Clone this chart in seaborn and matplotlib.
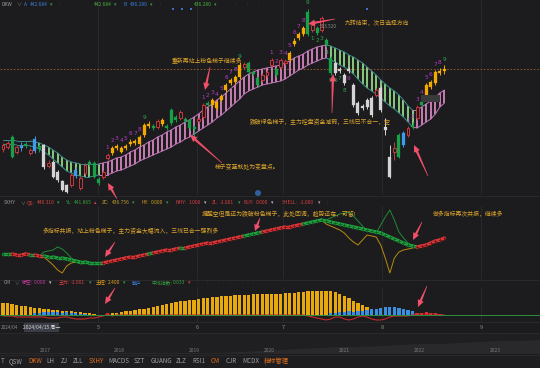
import numpy as np
import pandas as pd
import matplotlib
matplotlib.use("Agg")
import matplotlib.pyplot as plt
import seaborn as sns
from matplotlib.collections import LineCollection
from matplotlib.patches import Rectangle, Polygon, Circle
from matplotlib.transforms import blended_transform_factory

# ---------------- data ----------------
opens = [363,365,375,360,364,368,359,361,366,367, 346,350,340,331,327,327,336,324,339,350,
         349,333,335,354,359,364,360,364,368,369, 368,377,386,386,385,388,386,402,395,394,
         393,392,385,391,395,409,407,404,412,422, 429,430,435,445,449,440,434,432,437,447,
         443,445,449,452,468,474,478,500,482,484, 482,472,454,449,443,437,443,427,409,406,
         412,414,417,424,385,355,360,377,367,377, 387,394,410,417,425,429,439,441]
closes = [367,369,355,365,366,366,362,373,363,345, 349,335,332,322,320,337,342,334,347,348,
          335,329,340,357,364,366,364,366,370,371, 375,387,388,384,391,392,384,389,392,400,
          391,384,383,393,407,407,412,410,416,427, 432,435,447,448,440,438,427,437,440,452,
          437,452,451,459,471,478,484,478,487,479, 494,467,439,439,441,429,441,407,399,404,
          405,397,422,402,382,335,364,355,379,384, 385,405,407,427,430,440,441,443]
highs = [369,371,377,367,370,370,364,376,368,368, 352,352,342,332,328,339,345,336,349,352,
         351,335,342,359,366,368,366,368,373,373, 377,389,391,388,393,394,388,404,397,402,
         395,394,387,395,409,411,414,412,418,429, 434,437,450,450,451,442,436,439,442,454,
         445,454,453,461,474,480,486,503.5,490,486, 496,474,456,451,445,439,445,429,411,408,
         414,416,424,426,394,367,370,379,381,386, 390,407,414,429,432,442,444,447]
lows = [360,363,354,358,361,364,357,359,360,343, 344,334,330,321,319,325,334,322,337,346,
        334,327,333,352,357,362,359,362,366,367, 366,375,384,382,383,386,382,387,390,392,
        389,382,375,389,393,405,405,402,410,420, 427,428,433,443,438,436,425,430,435,445,
        435,443,447,450,466,472,476,476,480,477, 480,465,437,437,439,427,439,405,397,402,
        403,395,415,400,377,334,352,354,365,375, 383,392,405,415,423,427,437,438]
kinds = ("rrgrbgrbgw" "rwwwwrbrrg" "ggrryyyyyy" "yyygrygggr" "gggrrgyyyy"
         "yyyrgggrrr" "grryyyygrg" "rggwwwwwww" "wwrwwwrgbr" "grgyyyyy")

band_hi = [372,372,372,371,371,371,371,370,
           369,367,365,362,359,355,352,350,349,348,348,348,348,348,
           349,350,352,354,355,357,360,362,365,367, 370,372,375,377,380,382,385,387,390,392,
           395,398,402,405,408,412,415,419,423,427, 431,435,438,440,442,443,444,445,446,447,
           449,451,454,456,458,461,463,465,466,467,
           466,464,462,460,457,455,452,449,445,441,437,432,428,424,421,417,412,406,402,
           402,405,408,411,415,419,422]
band_lo = [368,368,368,367,367,367,366,365,
           363,360,357,353,349,345,341,339,337,336,335,335,336,337,
           337,337,339,341,342,344,346,348,351,353, 355,357,359,361,363,365,368,370,373,375,
           378,381,384,387,390,394,397,401,405,409, 413,418,421,423,425,427,428,429,430,431,
           433,436,439,442,444,447,449,451,453,454,
           452,450,447,445,442,438,433,428,424,421,418,414,410,406,403,399,395,390,385,
           384,387,390,393,398,405,409]
band_runs = [("n", 8), ("d", 14), ("u", 50), ("d", 19), ("u", 7)]

td_up_starts = [23, 44, 59, 89]
td_down_starts = [68]

sx_main = [441,441,441,440,440,441,440,440,439,439, 438,438,437,437,436,435,434,433,433,432,
           432,432,432,433,434,435,436,437,438,438, 439,440,441,442,443,444,445,445,446,447,
           447,448,449,450,451,452,452,453,454,455, 456,457,458,459,460,461,462,463,464,465,
           466,467,468,468,469,470,471,472,473,474, 475,474,473,472,471,470,469,468,467,466,
           465,464,463,462,460,458,456,454,452,450, 449,448,449,450,452,454,455,457]
sx_runs = [("g", 2), ("r", 4), ("g", 1), ("r", 2), ("g", 13), ("r", 10), ("g", 1), ("r", 6),
           ("g", 1), ("r", 13), ("g", 4), ("r", 9), ("g", 25), ("r", 7)]
thin_left_idx = [8, 9, 10, 11, 12, 13, 14, 15, 16, 17, 18, 19]
thin_left_green = [439,443,444,445,448,446,442,437,433,431,432,432]
thin_left_gold = [439,438,434,430,425,422,429,432,433,433,433,432]
thin_right_idx = list(range(70, 93))
thin_right_green = [475,475,477,479,481,482,483,479,474,469,464,463,462,470,478,485,475,463,457,452,449,448,449]
thin_right_gold = [475,471,469,467,465,462,457,453,450,455,460,459,458,450,437,422,437,443,445,446,447,448,449]

cm_yellow = [12,12,11,10,9,9,8,7,7,6, 6,5,5,4,4,4,3,3,2,2, 1,0,0,1,2,2,3,4,4,5,
             6,6,7,8,9,10,11,12,13,14, 14,15,15,16,17,17,18,18,19,19, 19,20,20,20,20,21,21,21,21,21,
             21,21,22,22,22,23,23,24,24,24, 24,24,24,23,21,19,17,14,12,10, 8,6,5,3,2,1,0,0,0,0,
             0,0,0,0,0,0,0,0]
blue_idx = [7,8,9,10,11,12,13,14,15,16,17,18,
            72,73,74,75,76,77,78,79,80,81,82,83,84,85,86,87,88,89,90]
blue_vals = [2,2,3,3,3,3,2,3,2,2,1,1,
             2,2,3,3,4,3,4,4,5,6,6,7,8,8,8,7,6,5,4]
red_idx = [23, 91, 92, 93, 94, 95, 96]
red_vals = [2, 2, 2, 3, 2, 2, 1]
cm_red_line = [-1,-1,-1,-2,-2,-2,-2,-2,-2,-2, -3,-3,-3,-2,-2,-3,-4,-4,-4,-3,
               -3,-2,-1,1,-1,0,0,0,0,0, 0,0,0,0,0,0,0,0,0,0, 0,0,0,0,0,0,0,0,0,0,
               0,0,0,0,0,0,0,0,0,0, 0,0,0,0,0,0,0,-1,-2,-3, -4,-5,-4,-2,-2,-4,-5,-4,-2,-1,
               -2,-4,-5,-5,-4,-2,-1,-1,-1,-1, 0,1,1,1,1,1,0,0]

month_pos = [20.9, 42.6, 61.6, 83.3, 105.1]
month_labels = ["5", "6", "7", "8", "9"]
ov_vals = [1,1,1,1,1,1,1,1,1,1,1,1,2,3,4,5,6,7,7,8,9,10,10,11,12,13,13,14]
year_labels = ["2017", "2018", "2019", "2020", "2021", "2022", "2023"]
year_x = [45, 119, 194, 269, 344, 419, 495]
tabs = ["T", "QSW", "DKW", "LH", "ZJ", "ZLL", "SXHY", "MACDS", "SZT", "GUANG", "ZLZ", "RSI1", "CM", "CJR", "MCDX", "指标管理"]
tab_x = [1, 15.5, 35, 50.5, 64, 78, 96, 119, 139.5, 161, 181, 198.5, 215, 231, 250.5, 276.5]
tab_active = ["DKW", "SXHY", "CM", "指标管理"]

# ---------------- style ----------------
BG = "#1c1c1e"
sns.set_theme(style="dark", rc={"axes.facecolor": BG, "figure.facecolor": BG})
plt.rcParams["font.family"] = ["Noto Sans CJK SC", "DejaVu Sans"]

W, H = 540, 368
fig = plt.figure(figsize=(5.4, 3.68), dpi=100)
n = len(opens)
xs = np.arange(n)


def panel(top, bottom, ylim):
    ax = fig.add_axes([0, 1 - bottom / H, 1, (bottom - top) / H])
    ax.set_facecolor(BG)
    ax.set_xlim(-0.66, 118.0)
    ax.set_ylim(*ylim)
    ax.set_xticks([])
    ax.set_yticks([])
    for s in ax.spines.values():
        s.set_visible(False)
    ax.grid(False)
    for mp in month_pos:
        ax.axvline(mp, color="#2a2a2d", lw=0.7, zorder=0)
    return ax


def expand(runs):
    out = []
    for c, k in runs:
        out += [c] * k
    return out


# ---------------- main candle panel ----------------
ax = panel(0, 195, (317, 512))
ax.axhline(443, color="#a0602c", lw=0.6, ls=(0, (2, 2)), zorder=1)

state = expand(band_runs)
stripe_col = {"d": "#9ae68e", "u": "#e48ccc"}
edge_col = {"n": "#3f8a8c", "d": "#3f8a8c", "u": "#c27abb"}
for i in range(n):
    if state[i] in stripe_col:
        ax.vlines(xs[i], band_lo[i], band_hi[i], color=stripe_col[state[i]], lw=1.2, zorder=2)
for i in range(n - 1):
    c = edge_col[state[i + 1]]
    ax.plot(xs[i:i + 2], band_hi[i:i + 2], color=c, lw=0.7, zorder=2)
    ax.plot(xs[i:i + 2], band_lo[i:i + 2], color=c, lw=0.7, zorder=2)

kind_color = {"r": "#c8383c", "g": "#18a048", "w": "#d4d4d4", "y": "#f2a900", "b": "#3d9bea"}
for i in range(n):
    k = kinds[i]
    c = kind_color[k]
    ax.vlines(xs[i], lows[i], highs[i], color=c, lw=0.7, zorder=3)
    lo_b, hi_b = min(opens[i], closes[i]), max(opens[i], closes[i])
    h = max(hi_b - lo_b, 1.0)
    if k == "r":
        ax.bar(xs[i], h, bottom=lo_b, width=0.62, facecolor=BG, edgecolor=c, lw=0.7, zorder=4)
    else:
        ax.bar(xs[i], h, bottom=lo_b, width=0.66, facecolor=c, edgecolor=c, lw=0.2, zorder=4)

for s in td_up_starts:
    for k in range(1, 10):
        i = s + k - 1
        ax.text(xs[i], highs[i] + 5.5, str(k), color="#2aa84a" if k == 9 else "#b23cc8",
                fontsize=4.2, ha="center", va="center", zorder=6, family="DejaVu Sans")
for s in td_down_starts:
    for k in range(1, 10):
        i = s + k - 1
        ax.text(xs[i], lows[i] - 6, str(k), color="#b23cc8" if k == 9 else "#2aa84a",
                fontsize=4.2, ha="center", va="center", zorder=6, family="DejaVu Sans")

# ---------------- SXHY panel ----------------
ax2 = panel(206, 279, (416, 489))
sns.lineplot(x=thin_left_idx, y=thin_left_green, ax=ax2, color="#1f8a34", lw=0.7, zorder=2)
sns.lineplot(x=thin_left_idx, y=thin_left_gold, ax=ax2, color="#b88a10", lw=0.7, zorder=2)
sns.lineplot(x=thin_right_idx, y=thin_right_green, ax=ax2, color="#1f8a34", lw=0.7, zorder=2)
sns.lineplot(x=thin_right_idx, y=thin_right_gold, ax=ax2, color="#b88a10", lw=0.7, zorder=2)
sx_col = expand(sx_runs)
segs = [[(xs[i], sx_main[i]), (xs[i + 1], sx_main[i + 1])] for i in range(n - 1)]
colmap = {"g": "#22a040", "r": "#d8383a"}
lc = LineCollection(segs, colors=[colmap[c] for c in sx_col[:-1]], linewidths=2.4, zorder=3,
                    capstyle="round")
ax2.add_collection(lc)
dark = {"g": "#0d5f22", "r": "#7a1516"}
ax2.scatter(xs, sx_main, marker="+", s=7, c=[dark[c] for c in sx_col], linewidths=0.6, zorder=4)
ax2.set_xlim(-0.66, 118.0)
ax2.set_ylim(416, 489)
ax2.set_xlabel("")
ax2.set_ylabel("")

# ---------------- CM panel ----------------
ax3 = panel(287, 322, (-7, 28))
ax3.bar(xs, cm_yellow, width=0.72, color="#e8a90e", zorder=2, lw=0)
ax3.bar(blue_idx, blue_vals, width=0.72, color="#3a8fe0", zorder=3, lw=0)
ax3.bar(red_idx, red_vals, width=0.72, color="#e0323c", zorder=3, lw=0)
sns.lineplot(x=xs, y=cm_red_line, ax=ax3, color="#c82828", lw=0.8, zorder=3)
ax3.axhline(0, color="#2f8f3f", lw=0.7, zorder=4)
ax3.set_xlim(-0.66, 118.0)
ax3.set_ylim(-7, 28)
ax3.set_xlabel("")
ax3.set_ylabel("")

# ---------------- overview strip ----------------
ax4 = fig.add_axes([0, 1 - 354 / H, 1, 21 / H])
ax4.set_facecolor("#1f1f21")
ax4.fill_between(range(len(ov_vals)), ov_vals, color="#29292c", lw=0)
ax4.set_xlim(0, len(ov_vals) - 1)
ax4.set_ylim(0, 21)
ax4.set_xticks([])
ax4.set_yticks([])
for s in ax4.spines.values():
    s.set_visible(False)

# ---------------- overlay (texts, arrows) ----------------
ov = fig.add_axes([0, 0, 1, 1], zorder=10)
ov.set_xlim(0, W)
ov.set_ylim(H, 0)
ov.axis("off")
ov.patch.set_visible(False)

for yy in (196, 279.5, 321.5, 332.5, 354.5):
    ov.plot([0, W], [yy, yy], color="#2c2c2f", lw=0.6)
ov.add_patch(Rectangle((0, 355), W, 13, color="#1e1e20", lw=0, zorder=0))


def row(items, y, fs=3.5):
    for x, t, c in items:
        ov.text(x, y, t, color=c, fontsize=fs, ha="left", va="center")


BLUE, GRN, RED, GREY, SEP = "#3b7dd8", "#2e9e4e", "#d94040", "#9a9a9a", "#505050"
row([(2, "DKW", GREY), (16, "∨", "#777777"), (24, "A:", BLUE), (30, "442.684", BLUE), (50, "▾", GRN),
     (60, ":", SEP), (94, "442.684", "#4caf3c"), (114, "▾", GRN), (124, "B:", BLUE), (130, "436.280", BLUE),
     (150, "▾", GRN), (160, ":", SEP), (194, "436.280", "#4caf3c"), (214, "▾", GRN),
     (235, ":", SEP), (247, ":", SEP), (258, ":", SEP)], 4.5)
for bx in (173, 182, 191, 367):
    ov.add_patch(Rectangle((bx - 1, 7.5), 2, 2, color="#3b6fc8", lw=0))
row([(4, "SXHY", GREY), (20, "∨", "#777777"), (27, "QS:", RED), (37, "440.310", RED), (57, "▾", GRN),
     (66, "YL:", "#3aa040"), (74, "441.865", "#3aa040"), (94, "▴", RED),
     (102, "ZC:", "#c0a030"), (112, "436.756", "#c0a030"), (132, "▾", GRN),
     (142, "HY:", "#d0a020"), (151, "0.000", "#d0a020"), (166, "▾", GRN),
     (175, "NHY:", RED), (189, "1.000", RED), (204, "▾", "#bbbbbb"),
     (212, "ZL:", RED), (220, "-1.001", RED), (238, "▾", GRN),
     (243, "BUY:", RED), (256, "0.000", RED), (271, "▾", "#bbbbbb"),
     (282, "SHELL:", RED), (300, "-1.000", RED), (318, "▾", "#aaaaaa"),
     (327, ":", SEP), (338, ":", SEP)], 203)
ov.add_patch(Circle((258, 193), 3, color="#2f5f9f", lw=0))
row([(4, "CM", GREY), (14, "∨", "#777777"), (22, "做空:", "#c03a9a"), (34, "0.000", "#c03a9a"), (49, "▾", "#cccccc"),
     (59, "主力:", RED), (71, "-1.001", RED), (89, "▾", GRN),
     (96, "主控:", "#e0a020"), (108, "2.400", "#e0a020"), (123, "▾", GRN),
     (132, "散户", BLUE), (151, "中线指数:", "#3aa040"), (173, "0.033", "#3aa040"), (188, "▾", RED),
     (197, ":", SEP), (207, ":", SEP), (218, ":", SEP), (230, ":", SEP), (242, ":", SEP), (253, ":", SEP)], 283)

ov.text(320, 26, "503.520", color="#8a8a8a", fontsize=3.4, ha="left", va="center")
ov.add_patch(Rectangle((421, 95), 19, 7, color="#3a3a3d", lw=0, zorder=1))

GOLD = "#dca42c"
notes = [("重新再站上粉色梯子继续多", 172, 61),
         ("梯子变蓝就处为变盘点。", 215, 167),
         ("跌破绿色梯子，主力控盘资金减弱，三线已不合一，空", 250, 122),
         ("九转结束，次日选择方向", 345, 22.5),
         ("多指标共振，站上粉色梯子，主力资金大幅流入，三线已合一强烈多", 43, 231),
         ("提醒空但是还为跌破粉色梯子，此处回调，趋势还在，可留!", 202, 214),
         ("做多指标再次共振，继续多", 433, 214)]
for t, x0, y0 in notes:
    ov.text(x0, y0, t, color=GOLD, fontsize=4.2, ha="left", va="center", zorder=12)


def arrow(tx, ty, hx, hy):
    T = np.array([tx, ty], float)
    Hd = np.array([hx, hy], float)
    d = Hd - T
    L = np.hypot(*d)
    u = d / L
    nn = np.array([-u[1], u[0]])
    hl = min(7.0, L * 0.45)
    hw = 3.2
    B = Hd - u * hl
    pts = [T + nn * 0.3, B + nn * 1.2, B + nn * hw, Hd, B - nn * hw, B - nn * 1.2, T - nn * 0.3]
    ov.add_patch(Polygon(pts, closed=True, color="#f0506a", lw=0, zorder=15))


for a in [(210, 67, 205, 90), (222, 163, 190, 135), (332, 113, 333, 74), (335, 19, 308, 24),
          (428, 176, 414, 145), (117, 199, 108, 183), (115, 242, 105, 257), (260, 218, 255, 231),
          (422, 222, 413, 240), (115, 288, 105, 304), (427, 286, 418, 307)]:
    arrow(*a)

# x-axis labels
trans = blended_transform_factory(ax3.transData, ov.transData)
for mp, lab in zip(month_pos, month_labels):
    ov.text(mp, 327.5, lab, transform=trans, color="#8a8a8a", fontsize=4.0, ha="center", va="center")
ov.text(0.5, 327.5, "2024/04", color="#8a8a8a", fontsize=3.3, ha="left", va="center")
ov.add_patch(Rectangle((24, 323), 35, 9, color="#3a3d45", lw=0, zorder=11))
ov.text(41.5, 327.5, "2024/04/15 周一", color="#d8d8d8", fontsize=3.6, ha="center", va="center", zorder=12)

for yx, yl in zip(year_x, year_labels):
    ov.text(yx, 350, yl, color="#7a7a7a", fontsize=3.6, ha="center", va="center")

for tx, tl in zip(tab_x, tabs):
    col = "#e07020" if tl in tab_active else "#a0a0a0"
    ov.text(tx, 361, tl, color=col, fontsize=4.5, ha="center" if tl != "T" else "left", va="center")
ov.plot([265, 265], [357, 365], color="#444444", lw=0.6)

fig.savefig("out.png", dpi=100, facecolor=BG)
